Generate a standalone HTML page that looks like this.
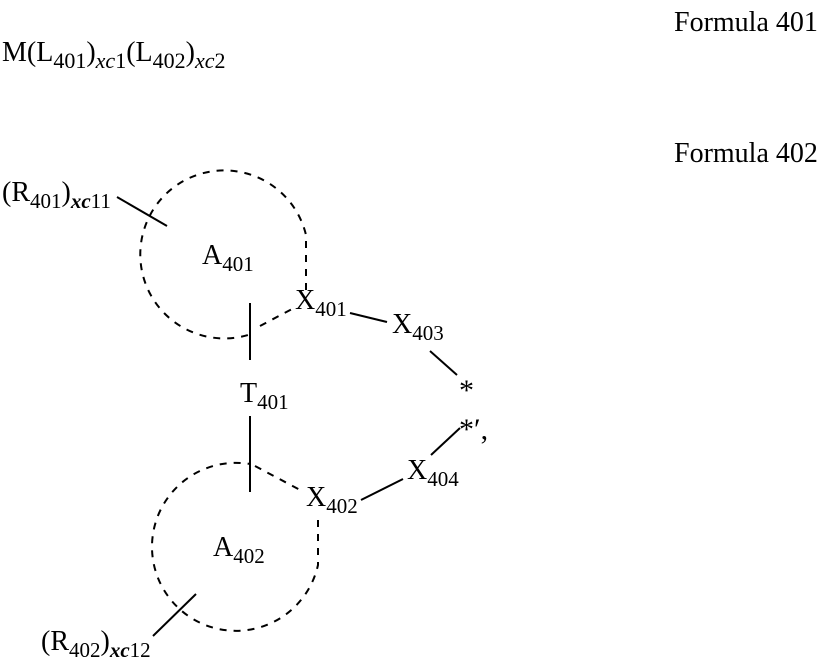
<!DOCTYPE html>
<html><head><style>
html,body{margin:0;padding:0;background:#fff;}
svg{display:block;}
text{font-family:"Liberation Serif",serif;fill:#000;}
</style></head><body>
<svg width="826" height="658" viewBox="0 0 826 658" xmlns="http://www.w3.org/2000/svg">
<g font-size="28">
<text x="674" y="31">Formula 401</text>
<text x="674" y="162">Formula 402</text>
<text x="2" y="61">M(L<tspan font-size="22" dy="7">401</tspan><tspan dy="-7">)</tspan><tspan font-size="22" font-style="italic" dy="7">xc</tspan><tspan font-size="22">1</tspan><tspan dy="-7">(L</tspan><tspan font-size="22" dy="7">402</tspan><tspan dy="-7">)</tspan><tspan font-size="22" font-style="italic" dy="7">xc</tspan><tspan font-size="22">2</tspan></text>
<text x="2" y="201">(R<tspan font-size="21" dy="7">401</tspan><tspan dy="-7">)</tspan><tspan font-size="21" font-style="italic" font-weight="bold" dy="7">xc</tspan><tspan font-size="21">11</tspan></text>
<text x="202" y="264">A<tspan font-size="21" dy="7">401</tspan></text>
<text x="295" y="309">X<tspan font-size="21" dy="7">401</tspan></text>
<text x="392" y="333">X<tspan font-size="21" dy="7">403</tspan></text>
<text x="459" y="400" font-size="30">*</text>
<text x="240" y="402">T<tspan font-size="21" dy="7">401</tspan></text>
<text x="459" y="439" font-size="30">*′,</text>
<text x="407" y="479">X<tspan font-size="21" dy="7">404</tspan></text>
<text x="306" y="506">X<tspan font-size="21" dy="7">402</tspan></text>
<text x="213" y="556">A<tspan font-size="21" dy="7">402</tspan></text>
<text x="41" y="650">(R<tspan font-size="21" dy="7">402</tspan><tspan dy="-7">)</tspan><tspan font-size="21" font-style="italic" font-weight="bold" dy="7">xc</tspan><tspan font-size="21">12</tspan></text>
</g>
<g fill="none" stroke="#000" stroke-width="2">
<path d="M306,290 L306,235 A84,84 0 1 0 248,335" stroke-dasharray="7,7"/>
<path d="M260,326 L292,309" stroke-dasharray="7,7"/>
<path d="M318,520 L318,565 A84,84 0 1 1 250,464" stroke-dasharray="7,7"/>
<path d="M255,466 L302,491" stroke-dasharray="7,7"/>
<line x1="117" y1="197" x2="167" y2="226"/>
<line x1="350" y1="313" x2="387" y2="322"/>
<line x1="430" y1="351" x2="457" y2="375"/>
<line x1="250" y1="303" x2="250" y2="360"/>
<line x1="250" y1="416" x2="250" y2="492"/>
<line x1="361" y1="500" x2="403" y2="479"/>
<line x1="431" y1="455" x2="460" y2="428"/>
<line x1="153" y1="636" x2="196" y2="594"/>
</g>
</svg>
</body></html>
